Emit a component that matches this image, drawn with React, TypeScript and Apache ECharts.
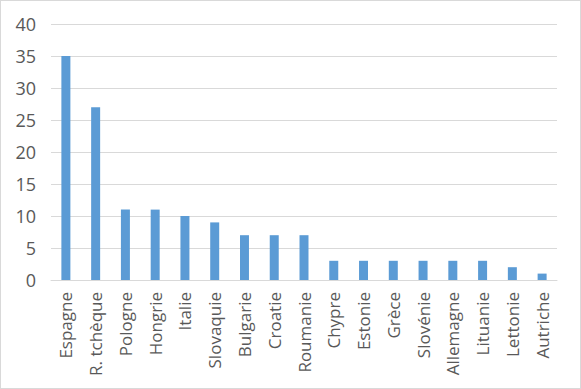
import React, { useEffect, useRef } from "react";
import * as echarts from "echarts";

const categories = [
  "Espagne", "R. tchèque", "Pologne", "Hongrie", "Italie", "Slovaquie", "Bulgarie", "Croatie",
  "Roumanie", "Chypre", "Estonie", "Grèce", "Slovénie", "Allemagne", "Lituanie", "Lettonie", "Autriche",
];
const values = [35, 27, 11, 11, 10, 9, 7, 7, 7, 3, 3, 3, 3, 3, 3, 2, 1];
const yMin = 0;
const yMax = 40;
const yStep = 5;

export default function App() {
  const ref = useRef<HTMLDivElement>(null);
  useEffect(() => {
    if (!ref.current) return;
    const chart = echarts.init(ref.current, undefined, { renderer: "svg" });
    chart.setOption({
      animation: false,
      backgroundColor: "#ffffff",
      grid: { left: 50, right: 23, top: 23, bottom: 108, containLabel: false },
      xAxis: {
        type: "category",
        data: categories,
        axisLine: { show: true, lineStyle: { color: "#d9d9d9", width: 1 } },
        axisTick: { show: false },
        axisLabel: {
          rotate: 90,
          interval: 0,
          margin: 12,
          color: "#595959",
          fontSize: 17,
          fontFamily: "Open Sans",
        },
      },
      yAxis: {
        type: "value",
        min: yMin,
        max: yMax,
        interval: yStep,
        axisLine: { show: false },
        axisTick: { show: false },
        splitLine: { lineStyle: { color: "#d9d9d9", width: 1 } },
        axisLabel: { color: "#595959", fontSize: 18, margin: 15, fontFamily: "Open Sans" },
      },
      series: [
        {
          type: "bar",
          data: values,
          barWidth: 9,
          itemStyle: { color: "#5b9bd5" },
        },
      ],
    });
    return () => chart.dispose();
  }, []);
  return (
    <div
      style={{
        position: "fixed",
        left: 0,
        top: 0,
        width: 581,
        height: 389,
        boxSizing: "border-box",
        border: "1px solid #d9d9d9",
        background: "#fff",
      }}
    >
      <div ref={ref} style={{ width: 579, height: 387 }} />
    </div>
  );
}
